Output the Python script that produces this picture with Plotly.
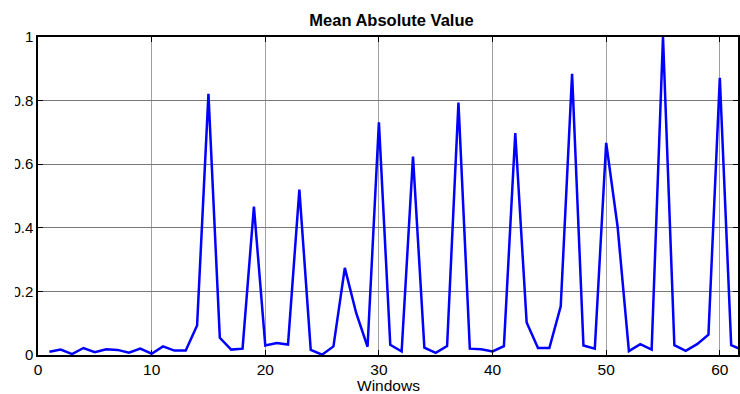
import plotly.graph_objects as go

# Mean absolute value per analysis window
windows = list(range(1, 63))
mav = [0.010, 0.017, 0.003, 0.022, 0.009, 0.018, 0.016, 0.007, 0.020, 0.004,
       0.027, 0.014, 0.014, 0.093, 0.821, 0.054, 0.017, 0.020, 0.467, 0.030,
       0.038, 0.033, 0.520, 0.016, 0.001, 0.027, 0.274, 0.132, 0.026, 0.732,
       0.032, 0.011, 0.624, 0.023, 0.007, 0.028, 0.794, 0.020, 0.018, 0.011,
       0.028, 0.698, 0.102, 0.022, 0.022, 0.153, 0.884, 0.030, 0.020, 0.667,
       0.405, 0.012, 0.034, 0.017, 1.000, 0.031, 0.013, 0.034, 0.064, 0.872,
       0.031, 0.015]

x_ticks = [0, 10, 20, 30, 40, 50, 60]
y_ticks = [0, 0.2, 0.4, 0.6, 0.8, 1]
y_tick_text = ["0", "0.2", "0.4", "0.6", "0.8", "1"]

FONT = "Arial, Liberation Sans, Helvetica, sans-serif"

fig = go.Figure()
fig.add_trace(go.Scatter(
    x=windows, y=mav, mode="lines",
    line=dict(color="rgb(0,0,255)", width=2.5),
    showlegend=False,
))

axis_common = dict(
    showline=True, linecolor="black", linewidth=1.5, mirror="ticks",
    ticks="inside", ticklen=5, tickwidth=1, tickcolor="black",
    showgrid=True, zeroline=False,
)

fig.update_layout(
    width=740, height=394,
    margin=dict(l=38, r=0, t=37, b=39),
    paper_bgcolor="white", plot_bgcolor="white",
    title=dict(
        text="<b>Mean Absolute Value</b>",
        x=0.505, xref="paper", xanchor="center",
        y=1 - 20 / 394, yref="container", yanchor="middle",
        font=dict(family=FONT, size=16.5, color="black"),
    ),
    xaxis=dict(range=[0, 61.6], tickvals=x_ticks,
               tickfont=dict(family=FONT, size=15.5, color="black"),
               gridcolor="rgb(160,160,160)", gridwidth=1, **axis_common),
    yaxis=dict(range=[0, 1], tickvals=y_ticks, ticktext=y_tick_text,
               tickfont=dict(family=FONT, size=15, color="black"),
               gridcolor="rgb(120,120,120)", gridwidth=1, **axis_common),
    annotations=[
        dict(text="Windows", x=0.5, xref="paper", y=-0.0945, yref="paper",
             xanchor="center", yanchor="middle", showarrow=False,
             borderpad=0,
             font=dict(family=FONT, size=15.5, color="black")),
        dict(text="<b>(a)</b>", x=0.497, xref="paper", y=1.109, yref="paper",
             xanchor="center", yanchor="bottom", showarrow=False,
             font=dict(family=FONT, size=16, color="black")),
    ],
    shapes=[
        dict(type="rect", xref="paper", yref="paper",
             x0=-0.07, x1=-0.0328, y0=-0.2, y1=1.2,
             fillcolor="white", line=dict(width=0), layer="above"),
    ],
)

fig.write_html("out.html")
